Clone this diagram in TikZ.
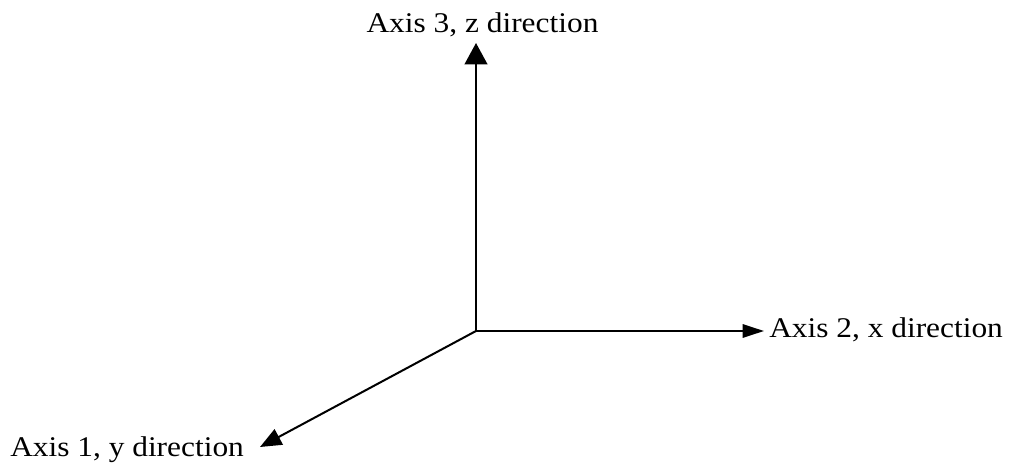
\documentclass[tikz,border=0pt]{standalone}
\usepackage{fontspec}
\setmainfont{Liberation Serif}
\usetikzlibrary{arrows.meta}
\begin{document}
\begin{tikzpicture}[x=0.75pt,y=-0.75pt,
  axis/.style={line width=1.5pt},
  lbl/.style={inner sep=0pt,font=\fontsize{21.4}{25}\selectfont}]
\useasboundingbox (0,0) rectangle (1011,467);
\coordinate (O) at (476,331);
\coordinate (Z) at (476,43);
\coordinate (X) at (764,331);
\coordinate (Y) at (260,447);
\draw[axis,-{Triangle[length=16pt,width=17pt]}] (O) -- (Z);
\draw[axis,-{Triangle[length=16pt,width=10pt]}] (O) -- (X);
\draw[axis,-{Triangle[length=16pt,width=13pt]}] (O) -- (Y);
\node[lbl,anchor=base] (lz) at (482.5,33) {\scalebox{1.1}[1]{Axis 3, z direction}};
\node[lbl,anchor=base west] (lx) at (769,337) {\scalebox{1.1}[1]{Axis 2, x direction}};
\node[lbl,anchor=base west] (ly) at (10,456) {\scalebox{1.1}[1]{Axis 1, y direction}};
\end{tikzpicture}
\end{document}
